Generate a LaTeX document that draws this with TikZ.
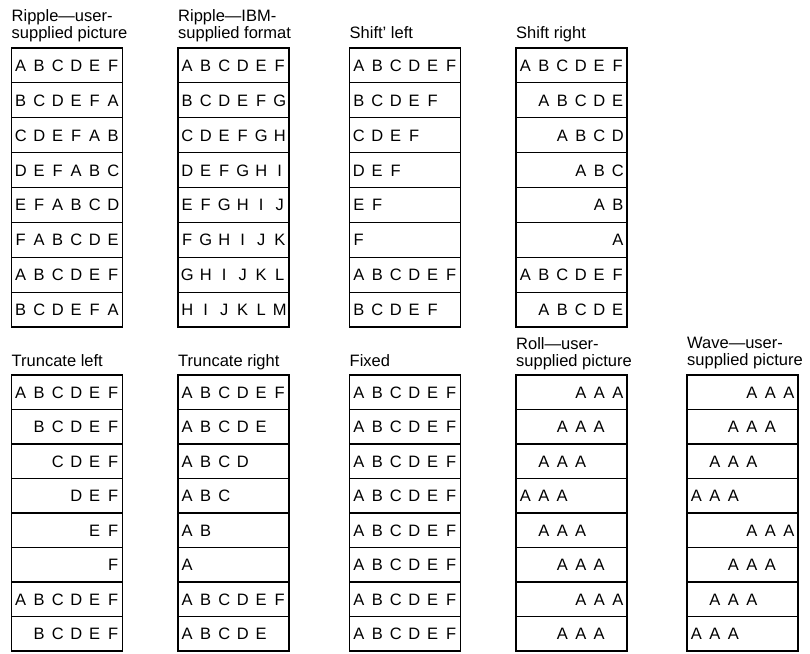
\documentclass[tikz,border=0pt]{standalone}
\usepackage{fontspec}
\setmainfont{Liberation Sans}

% one letter per fixed slot, '-' leaves the slot empty
\makeatletter
\newcommand\slotrow[1]{\edef\slot@s{#1}\expandafter\slot@next\slot@s\relax}
\def\slot@next#1{\ifx#1\relax\else\makebox[18.5pt]{\if#1-\else#1\fi}\expandafter\slot@next\fi}
\makeatother

% name, left, top, row height, rows
\newcommand\listcol[5]{%
  \foreach \r [count=\i] in {#5} {
    \node[cell, minimum height=#4pt] (#1-\i) at (#2, {#3+(\i-1)*#4}) {\slotrow{\r}};
  }
  \draw[frame] (#1-1.north west) rectangle (#1-8.south east);
}

\begin{document}
\begin{tikzpicture}[
    x=1pt, y=-1pt,
    font=\fontsize{16.5}{17}\selectfont,
    cell/.style={draw, line width=1.1pt, anchor=north west, inner sep=0pt, outer sep=0pt,
                 minimum width=111pt, text height=11.8pt, text depth=0pt},
    frame/.style={line width=1.9pt},
    title/.style={anchor=north west, inner sep=0pt, align=left}
]
    \useasboundingbox (0,0) rectangle (810,653);

    % Titles, top group
    \node[title] (rl-t) at (11.5, 9) {Ripple\textemdash user-\\supplied picture};
    \node[title] (ri-t) at (178, 9) {Ripple\textemdash IBM-\\supplied format};
    \node[title] (sl-t) at (349.5, 26) {Shift' left};
    \node[title] (sr-t) at (516, 26) {Shift right};

    % Columns, top group
    \listcol{rl}{11.5}{48}{34.9}{ABCDEF,BCDEFA,CDEFAB,DEFABC,EFABCD,FABCDE,ABCDEF,BCDEFA}
    \listcol{ri}{178}{48}{34.9}{ABCDEF,BCDEFG,CDEFGH,DEFGHI,EFGHIJ,FGHIJK,GHIJKL,HIJKLM}
    \listcol{sl}{349.5}{48}{34.9}{ABCDEF,BCDEF-,CDEF--,DEF---,EF----,F-----,ABCDEF,BCDEF-}
    \listcol{sr}{516}{48}{34.9}{ABCDEF,-ABCDE,--ABCD,---ABC,----AB,-----A,ABCDEF,-ABCDE}

    % Titles, bottom group
    \node[title] (tl-t) at (11.5, 354) {Truncate left};
    \node[title] (tr-t) at (178, 354) {Truncate right};
    \node[title] (fx-t) at (349.5, 354) {Fixed};
    \node[title] (ro-t) at (516, 337) {Roll\textemdash user-\\supplied picture};
    \node[title] (wv-t) at (687, 337) {Wave\textemdash user-\\supplied picture};

    % Columns, bottom group
    \listcol{tl}{11.5}{375}{34.5}{ABCDEF,-BCDEF,--CDEF,---DEF,----EF,-----F,ABCDEF,-BCDEF}
    \listcol{tr}{178}{375}{34.5}{ABCDEF,ABCDE-,ABCD--,ABC---,AB----,A-----,ABCDEF,ABCDE-}
    \listcol{fx}{349.5}{375}{34.5}{ABCDEF,ABCDEF,ABCDEF,ABCDEF,ABCDEF,ABCDEF,ABCDEF,ABCDEF}
    \listcol{ro}{516}{375}{34.5}{---AAA,--AAA-,-AAA--,AAA---,-AAA--,--AAA-,---AAA,--AAA-}
    \listcol{wv}{687}{375}{34.5}{---AAA,--AAA-,-AAA--,AAA---,---AAA,--AAA-,-AAA--,AAA---}

\end{tikzpicture}
\end{document}
